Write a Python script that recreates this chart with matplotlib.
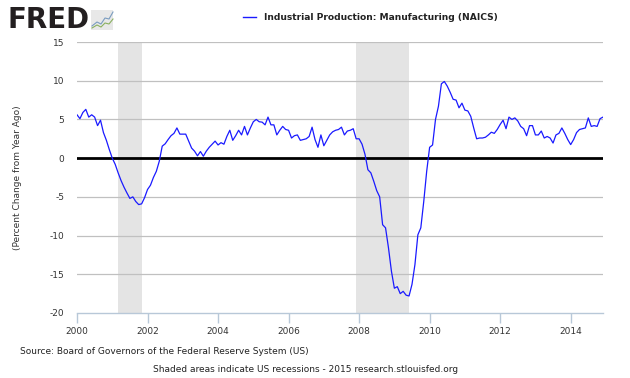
import numpy as np
import matplotlib
matplotlib.use("Agg")
import matplotlib.pyplot as plt
from matplotlib.patches import Rectangle
from matplotlib.lines import Line2D

# Monthly YoY % change, Jan 2000 .. Dec 2014
start_year = 2000
values = [
    5.6, 5.1, 5.9, 6.3, 5.3, 5.6, 5.3, 4.2, 4.9, 3.3, 2.3, 1.1,          # 2000
    0.0, -0.8, -1.9, -2.9, -3.75, -4.5, -5.2, -5.0, -5.6, -6.0, -5.9, -5.1,  # 2001
    -4.05, -3.5, -2.5, -1.7, -0.4, 1.55, 1.85, 2.4, 2.9, 3.2, 3.9, 3.1,  # 2002
    3.1, 3.1, 2.2, 1.3, 0.9, 0.3, 0.85, 0.25, 0.9, 1.4, 1.8, 2.2,        # 2003
    1.7, 2.0, 1.8, 2.8, 3.6, 2.3, 2.9, 3.6, 3.0, 4.1, 3.0, 3.9,          # 2004
    4.7, 5.0, 4.7, 4.65, 4.3, 5.3, 4.3, 4.3, 3.0, 3.6, 4.1, 3.7,         # 2005
    3.6, 2.6, 2.9, 3.0, 2.3, 2.4, 2.5, 2.8, 4.0, 2.4, 1.4, 3.0,          # 2006
    1.6, 2.3, 3.0, 3.4, 3.6, 3.7, 4.0, 3.0, 3.5, 3.6, 3.8, 2.5,          # 2007
    2.5, 1.8, 0.5, -1.5, -1.9, -3.0, -4.2, -5.0, -8.6, -9.0, -11.6, -14.6,  # 2008
    -16.8, -16.6, -17.5, -17.2, -17.7, -17.8, -16.3, -13.75, -9.9, -9.0, -5.6, -1.7,  # 2009
    1.4, 1.7, 5.0, 6.7, 9.6, 9.9, 9.3, 8.5, 7.6, 7.5, 6.5, 7.1,          # 2010
    6.2, 6.1, 5.4, 3.9, 2.5, 2.6, 2.6, 2.7, 3.0, 3.35, 3.2, 3.7,         # 2011
    4.35, 4.9, 3.8, 5.3, 5.0, 5.2, 4.8, 4.1, 3.8, 2.9, 4.2, 4.2,         # 2012
    3.0, 3.0, 3.5, 2.6, 2.8, 2.6, 1.95, 3.0, 3.2, 3.9, 3.2, 2.4,         # 2013
    1.75, 2.4, 3.3, 3.7, 3.8, 3.9, 5.2, 4.1, 4.2, 4.1, 5.1, 5.3,         # 2014
]
recessions = [(2001 + 2/12, 2001 + 10/12), (2007 + 11/12, 2009 + 5/12)]
x_ticks = [2000, 2002, 2004, 2006, 2008, 2010, 2012, 2014]
y_ticks = [-20, -15, -10, -5, 0, 5, 10, 15]
series_label = "Industrial Production: Manufacturing (NAICS)"
y_label = "(Percent Change from Year Ago)"
source_text = "Source: Board of Governors of the Federal Reserve System (US)"
footer_text = "Shaded areas indicate US recessions - 2015 research.stlouisfed.org"

dates = start_year + np.arange(len(values)) / 12.0

fig = plt.figure(figsize=(6.3, 3.78), dpi=100)
fig.patch.set_facecolor("white")
ax = fig.add_axes([77/630, 1 - 313/378, (603 - 77)/630, (313 - 42)/378])

for s, e in recessions:
    ax.axvspan(s, e, color="#e4e4e4", lw=0, zorder=0)

for yv in y_ticks:
    if yv == 0 or yv == -20:
        continue
    ax.axhline(yv, color="#c0c0c0", lw=0.9, zorder=1)
ax.axhline(0, color="black", lw=2.0, zorder=2)

ax.plot(dates, values, color="#1a1aff", lw=0.9, zorder=3)

ax.set_xlim(2000, dates[-1])
ax.set_ylim(-20, 15)
ax.set_xticks(x_ticks)
ax.set_xticklabels([str(t) for t in x_ticks])
ax.set_yticks(y_ticks)
ax.set_yticklabels([str(t) for t in y_ticks])

for sp in ["top", "right", "left"]:
    ax.spines[sp].set_visible(False)
ax.spines["bottom"].set_color("#b8c8d8")
ax.spines["bottom"].set_linewidth(1.0)
ax.tick_params(axis="x", colors="#b8c8d8", labelcolor="#333333", labelsize=6.5,
               length=7, width=1, direction="out", pad=3)
ax.tick_params(axis="y", length=0, labelcolor="#333333", labelsize=6.5, pad=9)
ax.set_ylabel(y_label, fontsize=6.5, color="#333333", labelpad=20)

# Legend / title
fig.add_artist(Line2D([243/630, 256/630], [1 - 17/378, 1 - 17/378],
                      color="#1a1aff", lw=1.0, transform=fig.transFigure))
fig.text(264/630, 1 - 17/378, series_label, fontsize=6.6, fontweight="bold",
         va="center", ha="left", color="#222222")

# FRED logo
fig.text(8/630, 1 - 20/378, "FRED", fontsize=20, fontweight="heavy",
         va="center", ha="left", color="#231f20", family="Liberation Sans Narrow")
icon = Rectangle((91/630, 1 - 30/378), 22/630, 20/378, transform=fig.transFigure,
                 facecolor="#e8e8e8", edgecolor="none")
fig.add_artist(icon)
fig.add_artist(Line2D(np.array([92, 97, 101, 105, 109, 113]) / 630,
                      1 - np.array([26, 22, 24, 18, 19, 12]) / 378,
                      color="#7a9cc0", lw=0.8, transform=fig.transFigure))
fig.add_artist(Line2D(np.array([92, 97, 101, 105, 109, 113]) / 630,
                      1 - np.array([28, 25, 27, 23, 24, 19]) / 378,
                      color="#8ab060", lw=0.8, transform=fig.transFigure))

fig.text(20/630, 1 - 351/378, source_text, fontsize=6.5, color="#222222",
         va="center", ha="left")
fig.text(306/630, 1 - 370/378, footer_text, fontsize=6.5, color="#222222",
         va="center", ha="center")

fig.savefig("out.png", dpi=100)
